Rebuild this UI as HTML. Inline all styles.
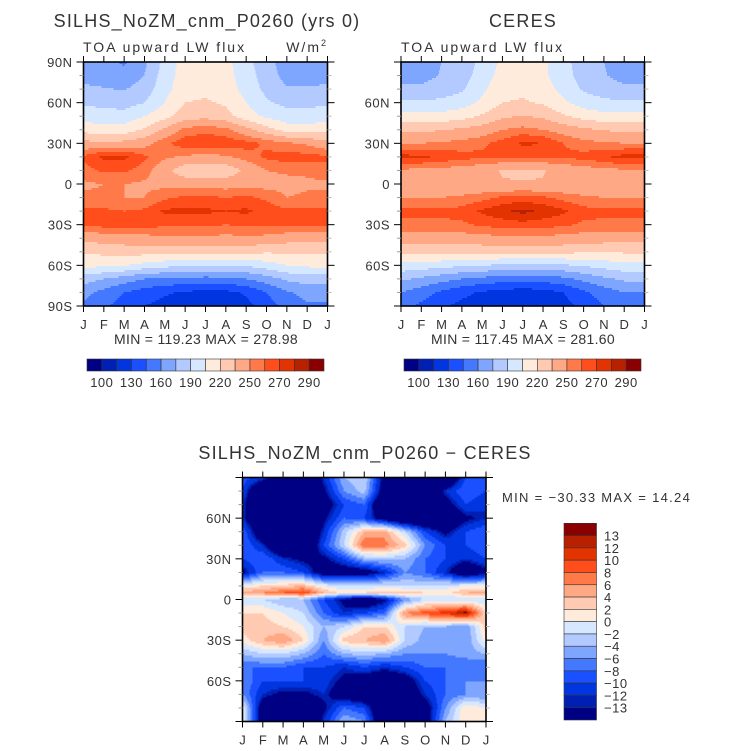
<!DOCTYPE html>
<html><head><meta charset="utf-8">
<style>
body{margin:0;background:#fff;}
svg{display:block;font-family:"Liberation Sans",sans-serif;}
text{fill:#333;}
</style></head>
<body>
<svg id="fig" xmlns="http://www.w3.org/2000/svg" width="733" height="751" viewBox="0 0 733 751">
<rect width="733" height="751" fill="#fff"/>
<g id="p1"></g>
<g id="p2"></g>
<g id="p3"></g>
<g id="ann"></g>
</svg>
<script>
const months = ["J","F","M","A","M","J","J","A","S","O","N","D","J"];
const latsA = [90,80,70,60,50,40,30,20,10,0,-10,-20,-30,-40,-50,-60,-70,-80,-90];
const latsB = [90,80,70,60,50,40,30,20,10,5,0,-10,-20,-30,-40,-50,-60,-70,-80,-90];
const fluxLevels = [100,115,130,145,160,175,190,205,220,235,250,260,270,280,290];
const fluxLabels = ["100","130","160","190","220","250","270","290"];
const diffLevels = [-13,-12,-10,-8,-6,-4,-2,0,2,4,6,8,10,12,13];
const diffLabels = ["13","12","10","8","6","4","2","0","\u22122","\u22124","\u22126","\u22128","\u221210","\u221212","\u221213"];
const palette = ["#000085","#0020b4","#0035df","#1a50ff","#4478ff","#7fa6ff","#b2caff","#d6e8ff","#ffebdc","#ffcab1","#ffa886","#ff7a48","#ff4d1c","#e33300","#b82100","#8a0000"];
const modelGrid = [
[168,165,158,172,195,212,212,210,195,180,168,168],
[170,168,165,175,198,212,214,210,198,182,170,170],
[178,176,174,182,200,214,216,212,200,186,176,176],
[188,186,184,190,205,220,222,218,205,192,186,186],
[198,196,196,205,215,228,230,225,212,202,196,196],
[215,210,212,222,238,254,258,254,240,226,214,212],
[240,238,240,245,258,266,266,266,264,258,252,248],
[262,272,272,262,252,248,246,248,255,262,265,264],
[256,262,262,255,240,225,226,225,238,250,252,252],
[248,250,250,248,246,245,244,244,245,245,246,248],
[252,252,250,250,258,262,262,260,262,258,250,252],
[262,262,260,262,272,272,272,270,272,266,262,262],
[262,264,264,264,262,262,262,260,262,262,262,262],
[240,242,244,245,248,248,248,246,248,246,242,240],
[222,224,226,226,226,226,226,224,224,222,222,222],
[210,208,206,200,195,192,190,190,192,198,205,208],
[182,175,168,160,158,156,155,156,160,168,178,182],
[165,155,145,138,132,128,125,126,132,145,158,165],
[158,148,138,130,125,122,120,120,125,138,150,158]];
const ceresGrid = [
[168,168,175,180,195,208,210,208,195,182,175,168],
[170,170,176,182,198,210,212,208,196,184,176,170],
[178,178,182,188,202,214,216,212,200,188,182,178],
[192,192,194,198,208,220,222,218,208,198,194,192],
[210,210,210,214,222,232,236,232,222,214,210,210],
[232,232,234,238,242,250,254,250,244,238,234,232],
[250,250,252,254,258,264,272,270,260,254,252,250],
[274,272,268,264,262,262,262,262,262,264,268,274],
[248,246,245,244,240,234,232,234,240,244,246,248],
[238,240,240,240,238,236,236,236,238,238,238,238],
[250,250,250,252,256,262,264,262,256,252,250,250],
[262,262,262,264,272,278,283,278,272,264,262,262],
[258,258,258,258,262,264,266,264,262,258,258,258],
[242,244,244,244,246,246,246,246,246,244,242,242],
[222,224,224,224,224,224,224,224,224,222,222,222],
[200,198,196,192,190,188,186,186,188,192,196,200],
[178,172,166,160,156,152,150,152,156,164,172,178],
[160,152,142,134,128,124,122,124,130,142,152,160],
[150,142,132,126,122,119,118,119,124,135,145,150]];
const diffGrid = [
[-9,-11,-20,-20,-12,-4,-2,-15,-20,-20,-20,-10],
[-10,-20,-20,-20,-14,-6,-3,-16,-20,-20,-12,-8],
[-12,-20,-20,-20,-16,-10,-8,-20,-20,-20,-15,-10],
[-12,-20,-20,-20,-14,-8,-10,-16,-20,-20,-18,-14],
[-8,-18,-20,-20,-12,-3,4,5,-2,-10,-14,-10],
[-8,-12,-20,-20,-10,-2,8,7,3,-6,-10,-10],
[-10,-8,-12,-14,-14,-10,-4,-3,-4,-8,-10,-12],
[-14,-8,-8,-10,-16,-16,-16,-12,-6,-8,-12,-18],
[0,2,3,4,0,-2,-2,-1,-2,-2,-1,0],
[5,6,8,10,4,1,2,3,3,2,1,4],
[-2,-2,-4,-4,-10,-14,-18,-14,-6,-2,-2,-2],
[2,2,0,-2,-8,-12,-10,-8,6,9,11,14],
[3,3,2,0,-4,-2,2,2,-2,-4,-4,-6],
[1,4,6,2,-6,3,4,6,-2,-5,-4,-6],
[-4,-2,-2,-4,-8,-4,-3,-4,-6,-6,-6,-5],
[-8,-8,-8,-10,-10,-12,-10,-12,-10,-8,-8,-8],
[-6,-10,-10,-10,-11,-14,-16,-18,-16,-10,-8,-6],
[-6,-12,-14,-14,-12,-16,-18,-20,-18,-12,-8,-6],
[0,-16,-20,-20,-14,-8,-10,-20,-20,-16,-6,2],
[0,-16,-20,-20,-12,-4,-6,-20,-20,-16,-4,2]];

const NS="http://www.w3.org/2000/svg";
function mk(tag,attrs,parent){const e=document.createElementNS(NS,tag);for(const k in attrs)e.setAttribute(k,attrs[k]);parent.appendChild(e);return e;}
function colorIdx(v,levels){let i=0;while(i<levels.length&&v>=levels[i])i++;return i;}
function sample(grid,lats,m,lat){
  let r=0;while(r<lats.length-2&&lat<lats[r+1])r++;
  const t=Math.max(0,Math.min(1,(lats[r]-lat)/(lats[r]-lats[r+1])));
  const c0=Math.floor(m)%12, c1=(c0+1)%12, s=m-Math.floor(m);
  const a=grid[r][c0]*(1-s)+grid[r][c1]*s;
  const b=grid[r+1][c0]*(1-s)+grid[r+1][c1]*s;
  return a*(1-t)+b*t;
}
function panel(g,opt){
  const {x0,y0,w,h,grid,lats,levels,yLabels}=opt;
  const xs=m=>x0+m/12*w, ys=lat=>y0+(90-lat)/180*h;
  const field=mk('g',{},g);
  
  
  const dy=2, W=Math.ceil(w);
  for(let py=0;py<h;py+=dy){
    const lat=90-(py+dy/2)/h*180;
    let start=0,cur=-1;
    for(let px=0;px<=W;px++){
      let ci=-1;
      if(px<W){const m=Math.min(11.999,(px+0.5)/w*12);ci=colorIdx(sample(grid,lats,m,lat),levels);}
      if(ci!==cur){
        if(cur>=0){
          const ww=Math.min(px,w)-start;
          const r=mk('rect',{x:x0+start,y:y0+py,width:ww+(px<W?0.6:0),height:Math.min(dy+0.6,h-py),fill:palette[cur]},field);
          
          }
        start=px;cur=ci;
      }
    }
  }
  const ax=mk('g',{stroke:'#000','stroke-width':1,fill:'none'},g);
  
  
  mk('rect',{x:x0,y:y0,width:w,height:h,'stroke-width':1.6},ax);
  for(let i=0;i<=12;i++){
    mk('line',{x1:xs(i),x2:xs(i),y1:y0,y2:y0-6},ax);
    mk('line',{x1:xs(i),x2:xs(i),y1:y0+h,y2:y0+h+6},ax);
    const t=mk('text',{x:xs(i),y:y0+h+23,'text-anchor':'middle','font-size':13},g);
    t.textContent=months[i];
    
    
  }
  for(let lat=-90;lat<=90;lat+=10){
    const major=lat%30===0;
    mk('line',{x1:x0,x2:x0-(major?7:4),y1:ys(lat),y2:ys(lat),stroke:major?'#000':'#999'},ax);
    if(major){mk('line',{x1:x0+w,x2:x0+w+7,y1:ys(lat),y2:ys(lat)},ax);}
    else mk('line',{x1:x0+w,x2:x0+w+4,y1:ys(lat),y2:ys(lat),stroke:'#bbb'},ax);
  }
  yLabels.forEach(l=>{
    const lat=l==='0'?0:parseInt(l)*(l.endsWith('S')?-1:1);
    const t=mk('text',{x:x0-11,y:ys(lat)+5,'text-anchor':'end','font-size':13,'letter-spacing':0.5},g);
    t.textContent=l;
    
    
  });
}
function txt(parent,x,y,s,size,anchor,name,ls){
  const t=mk('text',{x:x,y:y,'font-size':size,'text-anchor':anchor||'start','letter-spacing':ls||0},parent);
  t.setAttribute('xml:space','preserve');
  t.textContent=s;
  
  
  return t;
}
function hbar(parent,x0,y0,w,h){
  const bw=w/16;
  for(let i=0;i<16;i++){
    const r=mk('rect',{x:x0+i*bw,y:y0,width:bw,height:h,fill:palette[i],stroke:'#333','stroke-width':0.6},parent);
    
    
  }
  fluxLabels.forEach((l,k)=>txt(parent,x0+(2*k+1)*bw,y0+h+16,l,13,'middle','colorbar-label',0.5));
}
const p1=document.getElementById('p1'),p2=document.getElementById('p2'),p3=document.getElementById('p3'),ann=document.getElementById('ann');
panel(p1,{x0:83.5,y0:62,w:244,h:244,grid:modelGrid,lats:latsA,levels:fluxLevels,yLabels:['90N','60N','30N','0','30S','60S','90S']});
panel(p2,{x0:401,y0:62,w:243.5,h:244,grid:ceresGrid,lats:latsA,levels:fluxLevels,yLabels:['60N','30N','0','30S','60S']});
panel(p3,{x0:242.5,y0:477.5,w:243.5,h:244,grid:diffGrid,lats:latsB,levels:diffLevels,yLabels:['60N','30N','0','30S','60S']});
txt(ann,207,27,'SILHS_NoZM_cnm_P0260 (yrs 0)',18,'middle','model-title',1.2);
txt(ann,83,52,'TOA upward LW flux',14,'start','model-subtitle',2);
const u=txt(ann,328,52,'W/m',14,'end','units-label',2);
const sup=mk('tspan',{dy:-6,'font-size':9},u);sup.textContent='2';
txt(ann,206,344,'MIN = 119.23 MAX = 278.98',14,'middle','model-min-max',0.3);
txt(ann,523,27,'CERES',18,'middle','ceres-title',1.2);
txt(ann,401,52,'TOA upward LW flux',14,'start','ceres-subtitle',2);
txt(ann,523,344,'MIN = 117.45 MAX = 281.60',14,'middle','ceres-min-max',0.3);
txt(ann,365,459,'SILHS_NoZM_cnm_P0260 \u2212 CERES',18,'middle','difference-title',1.2);
txt(ann,502,502,'MIN = \u221230.33 MAX =  14.24',13,'start','difference-min-max',1.3);
hbar(ann,87,359,237,12);
hbar(ann,404,359,237,12);
const bh=(720-523.3)/16;
for(let i=0;i<16;i++){
  const r=mk('rect',{x:564,y:523.3+i*bh,width:32.5,height:bh,fill:palette[15-i],stroke:'#333','stroke-width':0.6},ann);
  
  
}
diffLabels.forEach((l,k)=>txt(ann,604,523.3+(k+1)*bh+5,l,13,'start','colorbar-label',0.5));
</script>
</body></html>
